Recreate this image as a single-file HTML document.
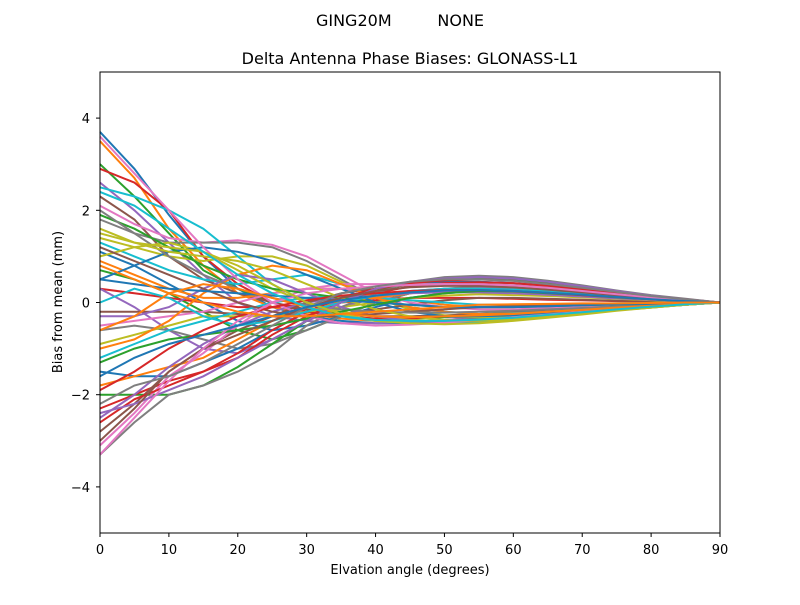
<!DOCTYPE html>
<html><head><meta charset="utf-8"><style>
body{margin:0;background:#fff;}
svg text{font-family:"DejaVu Sans","Liberation Sans",sans-serif;fill:#000;}
</style></head><body>
<svg id="chart" width="800" height="600" xmlns="http://www.w3.org/2000/svg">
<rect width="800" height="600" fill="#fff"/>
<text x="400" y="26" font-size="16" text-anchor="middle" xml:space="preserve">GING20M         NONE</text>
<text x="410" y="64" font-size="16" text-anchor="middle">Delta Antenna Phase Biases: GLONASS-L1</text>
<g id="lines"></g>
<rect x="100" y="72" width="620" height="461" fill="none" stroke="#000" stroke-width="1"/>
<g id="axes"></g>
<text x="410" y="574" font-size="13" text-anchor="middle">Elvation angle (degrees)</text>
<text transform="translate(62,302) rotate(-90)" font-size="13" text-anchor="middle">Bias from mean (mm)</text>
</svg>
<script>
const elevations=[0,5,10,15,20,25,30,35,40,45,50,55,60,65,70,75,80,85,90];
const xTicks=[0,10,20,30,40,50,60,70,80,90];
const yTicks=[-4,-2,0,2,4];
const s1=[3.7,2.9,1.9,1.0,0.3,-0.1,-0.3,-0.4,-0.45,-0.45,-0.4,-0.35,-0.3,-0.25,-0.2,-0.15,-0.1,-0.05,0];
const s2=[3.5,2.7,1.6,0.8,0.2,-0.1,-0.25,-0.35,-0.4,-0.4,-0.38,-0.33,-0.28,-0.23,-0.18,-0.13,-0.08,-0.04,0];
const s3=[3.0,2.3,1.5,0.7,0.3,0.0,-0.2,-0.3,-0.35,-0.35,-0.32,-0.28,-0.24,-0.2,-0.15,-0.1,-0.07,-0.03,0];
const s4=[2.9,2.6,2.0,1.0,0.4,0.0,-0.2,-0.3,-0.35,-0.35,-0.3,-0.26,-0.22,-0.18,-0.14,-0.1,-0.06,-0.03,0];
const s5=[2.6,2.0,1.3,0.6,0.0,-0.3,-0.4,-0.45,-0.45,-0.42,-0.38,-0.33,-0.28,-0.22,-0.17,-0.12,-0.08,-0.04,0];
const s6=[2.3,1.8,1.0,0.5,0.2,0.0,-0.15,-0.25,-0.3,-0.3,-0.28,-0.25,-0.2,-0.16,-0.12,-0.08,-0.05,-0.02,0];
const s7=[2.1,1.7,1.4,1.3,1.35,1.25,1.0,0.6,0.2,-0.1,-0.3,-0.35,-0.32,-0.28,-0.22,-0.16,-0.1,-0.05,0];
const s8=[1.8,1.5,1.3,1.3,1.3,1.2,0.9,0.5,0.1,-0.15,-0.3,-0.35,-0.32,-0.27,-0.21,-0.15,-0.1,-0.05,0];
const s9=[1.4,1.2,1.0,0.9,1.0,1.0,0.8,0.45,0.1,-0.15,-0.28,-0.32,-0.3,-0.25,-0.2,-0.15,-0.1,-0.05,0];
const s10=[1.3,1.0,0.7,0.5,0.4,0.5,0.6,0.4,0.1,-0.1,-0.2,-0.25,-0.23,-0.2,-0.16,-0.12,-0.08,-0.04,0];
const s11=[1.1,0.8,0.4,0.0,-0.4,-0.6,-0.5,-0.3,-0.1,0.1,0.2,0.25,0.22,0.18,0.14,0.1,0.06,0.03,0];
const s12=[0.9,0.6,0.3,0.1,0.1,0.2,0.3,0.3,0.2,0.05,-0.05,-0.1,-0.1,-0.08,-0.06,-0.04,-0.03,-0.01,0];
const s13=[0.7,0.5,0.2,-0.2,-0.6,-0.8,-0.6,-0.3,0.0,0.2,0.3,0.32,0.3,0.25,0.2,0.14,0.09,0.04,0];
const s14=[0.3,0.2,0.1,0.0,-0.1,-0.1,-0.05,0.0,0.05,0.1,0.1,0.1,0.08,0.06,0.05,0.03,0.02,0.01,0];
const s15=[0.3,-0.1,-0.6,-1.0,-1.1,-0.8,-0.4,-0.1,0.1,0.25,0.3,0.32,0.3,0.25,0.2,0.14,0.09,0.04,0];
const s16=[-0.2,-0.2,-0.2,-0.2,-0.25,-0.3,-0.3,-0.25,-0.15,-0.05,0.05,0.1,0.1,0.08,0.06,0.04,0.03,0.01,0];
const s17=[-0.5,-0.4,-0.3,-0.2,0.0,0.2,0.3,0.3,0.2,0.0,-0.1,-0.15,-0.15,-0.12,-0.1,-0.07,-0.05,-0.02,0];
const s18=[-0.6,-0.5,-0.6,-0.8,-1.0,-0.9,-0.6,-0.3,0.0,0.2,0.3,0.35,0.32,0.28,0.22,0.16,0.1,0.05,0];
const s19=[-0.9,-0.7,-0.5,-0.3,-0.3,-0.3,-0.2,-0.1,0.0,0.1,0.15,0.18,0.16,0.14,0.11,0.08,0.05,0.02,0];
const s20=[-1.2,-0.9,-0.6,-0.4,-0.2,0.0,0.1,0.15,0.1,0.05,0.0,-0.05,-0.05,-0.04,-0.03,-0.02,-0.01,0,0];
const s21=[-1.5,-1.6,-1.6,-1.3,-1.0,-0.6,-0.2,0.1,0.3,0.4,0.45,0.45,0.42,0.36,0.28,0.2,0.12,0.06,0];
const s22=[-1.8,-1.6,-1.4,-1.2,-0.8,-0.4,-0.1,0.0,0.1,0.2,0.25,0.25,0.23,0.2,0.15,0.1,0.06,0.03,0];
const s23=[-2.0,-2.0,-2.0,-1.8,-1.4,-0.9,-0.4,0.0,0.25,0.4,0.5,0.52,0.5,0.43,0.34,0.24,0.15,0.07,0];
const s24=[-2.3,-2.0,-1.7,-1.5,-1.2,-0.7,-0.3,0.0,0.2,0.35,0.42,0.44,0.42,0.36,0.28,0.2,0.12,0.06,0];
const s25=[-2.5,-2.0,-1.4,-0.9,-0.5,-0.2,0.0,0.1,0.15,0.2,0.22,0.22,0.2,0.17,0.13,0.09,0.06,0.03,0];
const s26=[-2.8,-2.2,-1.5,-1.0,-0.6,-0.3,0.0,0.2,0.3,0.38,0.4,0.4,0.37,0.32,0.25,0.18,0.11,0.05,0];
const s27=[-3.1,-2.4,-1.6,-1.1,-0.5,0.0,0.3,0.4,0.4,0.4,0.4,0.38,0.35,0.3,0.24,0.17,0.1,0.05,0];
const s28=[-3.3,-2.6,-2.0,-1.8,-1.5,-1.1,-0.5,-0.1,0.2,0.45,0.55,0.58,0.55,0.47,0.37,0.26,0.16,0.08,0];
const s29=[1.0,1.2,1.3,1.1,0.7,0.3,0.0,-0.2,-0.3,-0.38,-0.4,-0.38,-0.34,-0.28,-0.22,-0.16,-0.1,-0.05,0];
const s30=[2.5,2.3,2.0,1.6,1.0,0.4,0.0,-0.3,-0.4,-0.45,-0.45,-0.42,-0.37,-0.3,-0.24,-0.17,-0.11,-0.05,0];
const s31=[0.5,0.8,1.1,1.2,1.1,0.9,0.6,0.3,0.0,-0.2,-0.3,-0.3,-0.28,-0.24,-0.19,-0.14,-0.09,-0.04,0];
const s32=[-1.0,-0.8,-0.4,0.2,0.6,0.8,0.7,0.4,0.1,-0.1,-0.2,-0.25,-0.24,-0.2,-0.16,-0.12,-0.08,-0.04,0];
const s33=[1.9,1.6,1.2,0.8,0.5,0.3,0.2,0.1,0.0,-0.05,-0.1,-0.1,-0.1,-0.08,-0.06,-0.04,-0.03,-0.01,0];
const s34=[-2.6,-2.1,-1.8,-1.5,-1.1,-0.6,-0.2,0.1,0.3,0.42,0.48,0.5,0.47,0.4,0.32,0.23,0.14,0.07,0];
const s35=[-0.3,-0.3,-0.1,0.3,0.6,0.5,0.2,-0.1,-0.3,-0.4,-0.42,-0.4,-0.36,-0.3,-0.24,-0.17,-0.1,-0.05,0];
const s36=[1.2,0.9,0.6,0.3,0.0,-0.2,-0.3,-0.3,-0.25,-0.2,-0.15,-0.1,-0.08,-0.06,-0.05,-0.03,-0.02,-0.01,0];
const s37=[3.6,2.8,2.0,1.2,0.5,0.0,-0.3,-0.45,-0.5,-0.48,-0.44,-0.38,-0.32,-0.26,-0.2,-0.15,-0.1,-0.05,0];
const s38=[2.0,1.5,1.0,0.6,0.3,0.1,-0.05,-0.15,-0.2,-0.22,-0.22,-0.2,-0.18,-0.15,-0.12,-0.08,-0.05,-0.02,0];
const s39=[1.6,1.3,1.1,1.0,0.9,0.7,0.4,0.1,-0.15,-0.3,-0.38,-0.4,-0.37,-0.31,-0.24,-0.17,-0.11,-0.05,0];
const s40=[0.0,0.3,0.1,-0.3,-0.5,-0.4,-0.2,0.0,0.15,0.25,0.3,0.3,0.28,0.24,0.19,0.13,0.08,0.04,0];
const s41=[0.5,0.4,0.3,0.25,0.2,0.15,0.1,0.05,0.0,-0.05,-0.1,-0.1,-0.1,-0.08,-0.06,-0.04,-0.03,-0.01,0];
const s42=[-0.6,-0.3,0.2,0.4,0.3,0.1,-0.1,-0.25,-0.3,-0.32,-0.3,-0.28,-0.25,-0.2,-0.16,-0.11,-0.07,-0.03,0];
const s43=[-1.3,-1.0,-0.8,-0.7,-0.6,-0.5,-0.35,-0.2,-0.05,0.1,0.2,0.25,0.24,0.2,0.16,0.11,0.07,0.03,0];
const s44=[-1.9,-1.5,-1.0,-0.6,-0.3,-0.1,0.05,0.15,0.2,0.25,0.27,0.27,0.25,0.21,0.16,0.12,0.07,0.03,0];
const s45=[-2.4,-2.2,-1.9,-1.6,-1.2,-0.8,-0.4,0.0,0.3,0.45,0.52,0.55,0.52,0.45,0.35,0.25,0.15,0.07,0];
const s46=[-3.0,-2.3,-1.5,-1.0,-0.7,-0.4,-0.1,0.1,0.25,0.33,0.36,0.36,0.33,0.28,0.22,0.16,0.1,0.05,0];
const s47=[-3.3,-2.5,-1.7,-1.0,-0.4,0.0,0.2,0.3,0.35,0.38,0.4,0.4,0.37,0.32,0.25,0.18,0.11,0.05,0];
const s48=[-2.2,-1.8,-1.6,-1.3,-0.9,-0.5,-0.1,0.2,0.35,0.45,0.5,0.5,0.47,0.4,0.32,0.23,0.14,0.07,0];
const s49=[1.5,1.3,1.2,1.1,0.8,0.4,0.0,-0.25,-0.4,-0.45,-0.47,-0.45,-0.4,-0.33,-0.26,-0.18,-0.11,-0.05,0];
const s50=[2.4,2.1,1.6,1.1,0.6,0.2,-0.1,-0.3,-0.38,-0.4,-0.4,-0.37,-0.33,-0.27,-0.21,-0.15,-0.09,-0.04,0];
const s51=[-1.6,-1.2,-0.9,-0.7,-0.5,-0.3,-0.1,0.05,0.15,0.22,0.26,0.27,0.25,0.21,0.17,0.12,0.07,0.03,0];
const s52=[0.8,0.5,0.2,0.0,-0.2,-0.3,-0.3,-0.25,-0.2,-0.15,-0.1,-0.05,-0.04,-0.03,-0.02,-0.02,-0.01,0,0];
const series=[s1,s2,s3,s4,s5,s6,s7,s8,s9,s10,s11,s12,s13,s14,s15,s16,s17,s18,s19,s20,s21,s22,s23,s24,s25,s26,s27,s28,s29,s30,s31,s32,s33,s34,s35,s36,s37,s38,s39,s40,s41,s42,s43,s44,s45,s46,s47,s48,s49,s50,s51,s52];
const colors=["#1f77b4","#ff7f0e","#2ca02c","#d62728","#9467bd","#8c564b","#e377c2","#7f7f7f","#bcbd22","#17becf"];
const NS="http://www.w3.org/2000/svg";
function xs(v){return 100+(v-0)/90*620;}
function ys(v){return 302.5-v*46.1;}
const lg=document.getElementById('lines');
series.forEach((s,i)=>{
  const p=document.createElementNS(NS,'polyline');
  p.setAttribute('points',s.map((v,j)=>xs(elevations[j]).toFixed(1)+','+ys(v).toFixed(1)).join(' '));
  p.setAttribute('fill','none');p.setAttribute('stroke',colors[i%10]);p.setAttribute('stroke-width','2');
  
  
  lg.appendChild(p);
});
const ax=document.getElementById('axes');
xTicks.forEach(t=>{
  const l=document.createElementNS(NS,'line');
  l.setAttribute('x1',xs(t));l.setAttribute('x2',xs(t));l.setAttribute('y1',533);l.setAttribute('y2',537);l.setAttribute('stroke','#000');
  
  
  ax.appendChild(l);
  const tx=document.createElementNS(NS,'text');
  tx.setAttribute('x',xs(t));tx.setAttribute('y',554);tx.setAttribute('font-size','13');tx.setAttribute('text-anchor','middle');
  tx.textContent=t;
  
  
  ax.appendChild(tx);
});
yTicks.forEach(t=>{
  const l=document.createElementNS(NS,'line');
  l.setAttribute('x1',96);l.setAttribute('x2',100);l.setAttribute('y1',ys(t));l.setAttribute('y2',ys(t));l.setAttribute('stroke','#000');
  
  
  ax.appendChild(l);
  const tx=document.createElementNS(NS,'text');
  tx.setAttribute('x',90);tx.setAttribute('y',ys(t)+5);tx.setAttribute('font-size','13');tx.setAttribute('text-anchor','end');
  tx.textContent=t<0?'\u2212'+Math.abs(t):String(t);
  
  
  ax.appendChild(tx);
});
</script>
</body></html>
